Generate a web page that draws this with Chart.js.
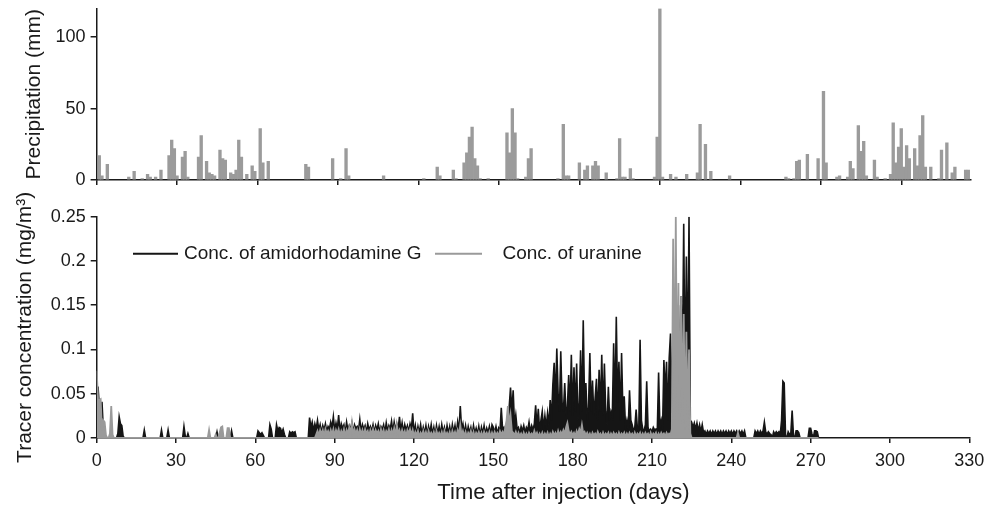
<!DOCTYPE html>
<html>
<head>
<meta charset="utf-8">
<script src="https://cdn.jsdelivr.net/npm/chart.js@4.4.1/dist/chart.umd.min.js"></script>
<style>
  html, body { margin: 0; padding: 0; background: #fff; }
  #wrap { position: relative; width: 1000px; height: 505px; }
  canvas { position: absolute; left: 0; }
  #rain { top: 0; }
  #conc { top: 190px; }
</style>
</head>
<body>
<div id="wrap">
  <canvas id="rain" width="1000" height="190"></canvas>
  <canvas id="conc" width="1000" height="315"></canvas>
</div>
<script>
// daily precipitation (mm), day after injection -> value
const rainDays = [1, 2, 4, 12, 14, 17, 19, 20, 22, 24, 27, 28, 29, 30, 32, 33, 34, 38, 39, 41,
  42, 43, 44, 46, 47, 48, 50, 51, 52, 53, 54, 56, 58, 59, 61, 62, 64, 78, 79, 88,
  91, 93, 94, 107, 122, 127, 128, 133, 134, 137, 138, 139, 140, 141, 142, 143, 146, 153, 154, 155,
  156, 157, 160, 161, 162, 172, 174, 175, 176, 180, 182, 183, 185, 186, 187, 190, 194, 195, 196, 197,
  199, 200, 208, 209, 210, 211, 214, 216, 220, 224, 225, 227, 229, 236, 257, 258, 260, 261, 262, 265,
  269, 271, 272, 276, 277, 280, 281, 282, 284, 285, 286, 287, 290, 291, 294, 296, 297, 298, 299, 300,
  301, 302, 303, 305, 306, 307, 308, 309, 311, 314, 315, 317, 319, 320, 324, 325];
const rainMm = [17, 3, 11, 2, 6, 1, 4, 2, 2, 7, 17, 28, 22, 3, 16, 20, 2, 16, 31, 13,
  5, 4, 3, 21, 15, 14, 5, 4, 7, 28, 16, 4, 10, 6, 36, 12, 13, 11, 9, 15,
  1, 22, 3, 3, 1, 9, 3, 7, 1, 12, 19, 30, 37, 15, 10, 1, 1, 33, 19, 50,
  33, 1, 2, 15, 22, 1, 39, 3, 3, 12, 7, 10, 10, 13, 10, 5, 1, 29, 2, 2,
  8, 1, 2, 30, 120, 2, 4, 2, 4, 5, 39, 25, 6, 3, 2, 1, 1, 13, 14, 18,
  15, 62, 12, 2, 3, 2, 13, 8, 38, 20, 27, 3, 14, 2, 1, 4, 40, 12, 23, 36,
  9, 24, 15, 22, 10, 31, 45, 9, 9, 1, 21, 26, 5, 9, 7, 7];

// tracer concentrations (mg/m3), one value every half day from day 0 to day 273
const concAmido = [
  0, 0.058, 0.035, 0.02, 0.041, 0.01, 0, 0, 0, 0,                                   // 0
  0, 0, 0, 0, 0, 0, 0.005, 0.024, 0.016, 0.014,                                     // 5
  0.002, 0, 0, 0, 0, 0, 0, 0, 0, 0,                                                 // 10
  0, 0, 0, 0, 0, 0, 0.009, 0, 0, 0,                                                 // 15
  0, 0, 0, 0, 0, 0, 0, 0, 0, 0.009,                                                 // 20
  0, 0, 0, 0, 0.009, 0, 0, 0, 0, 0,                                                 // 25
  0, 0, 0, 0, 0, 0, 0.013, 0.002, 0, 0.005,                                         // 30
  0, 0, 0, 0, 0, 0, 0, 0, 0, 0,                                                     // 35
  0, 0, 0, 0, 0, 0, 0, 0, 0, 0,                                                     // 40
  0, 0.007, 0, 0, 0, 0, 0, 0, 0, 0,                                                 // 45
  0, 0, 0.008, 0, 0, 0, 0, 0, 0, 0,                                                 // 50
  0, 0, 0, 0, 0, 0, 0, 0, 0, 0,                                                     // 55
  0, 0, 0.008, 0.006, 0.004, 0.006, 0.003, 0, 0, 0,                                 // 60
  0, 0.015, 0.01, 0, 0, 0, 0.015, 0.008, 0.012, 0.011,                              // 65
  0.006, 0.01, 0.004, 0, 0, 0, 0.007, 0.005, 0.007, 0.006,                          // 70
  0.007, 0, 0, 0, 0, 0, 0, 0, 0, 0,                                                 // 75
  0, 0.023, 0.012, 0.018, 0.008, 0.016, 0.01, 0.02, 0.009, 0.015,                   // 80
  0.006, 0.014, 0.009, 0.016, 0.007, 0.013, 0.01, 0.018, 0.012, 0.024,              // 85
  0.008, 0.017, 0.01, 0.026, 0.007, 0.016, 0.011, 0.015, 0.006, 0.018,              // 90
  0.009, 0.014, 0.01, 0.017, 0.006, 0.015, 0.011, 0.013, 0.008, 0.021,              // 95
  0.007, 0.015, 0.01, 0.014, 0.006, 0.016, 0.009, 0.013, 0.008, 0.015,              // 100
  0.006, 0.014, 0.009, 0.016, 0.007, 0.013, 0.01, 0.015, 0.006, 0.017,              // 105
  0.008, 0.014, 0.01, 0.019, 0.007, 0.018, 0.009, 0.016, 0.01, 0.024,               // 110
  0.008, 0.017, 0.006, 0.015, 0.009, 0.014, 0.007, 0.016, 0.01, 0.028,              // 115
  0.005, 0.014, 0.003, 0.013, 0.006, 0.015, 0.004, 0.012, 0.005, 0.014,             // 120
  0.003, 0.013, 0.006, 0.015, 0.004, 0.012, 0.003, 0.014, 0.005, 0.013,             // 125
  0.004, 0.015, 0.006, 0.012, 0.003, 0.014, 0.005, 0.013, 0.004, 0.015,             // 130
  0.006, 0.014, 0.004, 0.018, 0.008, 0.036, 0.01, 0.016, 0.005, 0.014,              // 135
  0.004, 0.013, 0.006, 0.012, 0.003, 0.014, 0.005, 0.011, 0.004, 0.013,             // 140
  0.003, 0.012, 0.005, 0.014, 0.004, 0.011, 0.006, 0.013, 0.004, 0.015,             // 145
  0.012, 0.006, 0.013, 0.005, 0.011, 0.007, 0.034, 0.01, 0.012, 0.006,              // 150
  0.013, 0.02, 0.035, 0.057, 0.03, 0.054, 0.015, 0.026, 0.01, 0.012,                // 155
  0.005, 0.013, 0.008, 0.014, 0.006, 0.012, 0.009, 0.018, 0.007, 0.014,             // 160
  0.009, 0.016, 0.037, 0.012, 0.033, 0.008, 0.02, 0.03, 0.01, 0.025,                // 165
  0.012, 0.028, 0.015, 0.043, 0.02, 0.06, 0.085, 0.04, 0.101, 0.05,                 // 170
  0.03, 0.098, 0.04, 0.03, 0.062, 0.025, 0.035, 0.071, 0.03, 0.094,                 // 175
  0.025, 0.08, 0.03, 0.084, 0.02, 0.04, 0.099, 0.03, 0.133, 0.04,                   // 180
  0.062, 0.02, 0.035, 0.096, 0.03, 0.065, 0.025, 0.045, 0.067, 0.02,                // 185
  0.077, 0.03, 0.094, 0.025, 0.084, 0.03, 0.015, 0.058, 0.02, 0.03,                 // 190
  0.025, 0.107, 0.03, 0.137, 0.04, 0.086, 0.02, 0.096, 0.03, 0.047,                 // 195
  0.012, 0.02, 0.01, 0.054, 0.02, 0.015, 0.008, 0.012, 0.032, 0.01,                 // 200
  0.008, 0.111, 0.02, 0.01, 0.008, 0.015, 0.064, 0.012, 0.008, 0.01,                // 205
  0.007, 0.012, 0.009, 0.01, 0.008, 0.074, 0.012, 0.02, 0.01, 0.088,                // 210
  0.05, 0.086, 0.02, 0.09, 0.118, 0.03, 0.131, 0.05, 0.12, 0.04,                    // 215
  0.15, 0.05, 0.16, 0.08, 0.242, 0.06, 0.205, 0.07, 0.25, 0.02,                     // 220
  0.018, 0.012, 0.017, 0.01, 0.017, 0.008, 0.015, 0.007, 0.015, 0.006,              // 225
  0.008, 0.004, 0.008, 0.005, 0.008, 0.004, 0.008, 0.005, 0.008, 0.004,             // 230
  0.008, 0.005, 0.008, 0.004, 0.008, 0.005, 0.008, 0.004, 0.008, 0.005,             // 235
  0.008, 0.004, 0.008, 0.005, 0.008, 0.004, 0.008, 0.005, 0.008, 0.004,             // 240
  0.008, 0, 0, 0, 0, 0, 0, 0, 0.008, 0.005,                                         // 245
  0.008, 0.004, 0.008, 0.005, 0.008, 0.018, 0.007, 0.004, 0.007, 0.005,             // 250
  0.004, 0, 0.007, 0.004, 0.007, 0.005, 0.007, 0.004, 0.02, 0.064,                  // 255
  0.062, 0.003, 0, 0.007, 0.004, 0.005, 0.031, 0.003, 0, 0.008,                     // 260
  0.008, 0.006, 0, 0, 0, 0, 0, 0, 0, 0.011,                                         // 265
  0.011, 0.0045, 0, 0.008, 0.008, 0.007, 0                                          // 270
];
const concUranine = [
  0.076, 0.044, 0.043, 0.044, 0.008, 0.02, 0.018, 0.003, 0, 0,                      // 0
  0.005, 0.036, 0.004, 0, 0, 0, 0, 0, 0, 0,                                         // 5
  0, 0, 0, 0, 0, 0, 0, 0, 0, 0,                                                     // 10
  0, 0, 0, 0, 0, 0, 0, 0, 0, 0,                                                     // 15
  0, 0, 0, 0, 0, 0, 0, 0, 0, 0,                                                     // 20
  0, 0, 0, 0, 0, 0, 0, 0, 0, 0,                                                     // 25
  0, 0, 0, 0, 0, 0, 0, 0, 0, 0,                                                     // 30
  0, 0, 0, 0, 0, 0, 0, 0, 0, 0,                                                     // 35
  0, 0, 0, 0, 0, 0.009, 0, 0, 0, 0,                                                 // 40
  0.004, 0, 0, 0.006, 0.012, 0.013, 0, 0, 0, 0.011,                                 // 45
  0.011, 0, 0, 0, 0, 0, 0, 0, 0, 0,                                                 // 50
  0, 0, 0, 0, 0, 0, 0, 0, 0, 0,                                                     // 55
  0, 0, 0, 0, 0, 0, 0, 0, 0, 0,                                                     // 60
  0, 0, 0, 0, 0, 0, 0, 0, 0, 0,                                                     // 65
  0, 0, 0, 0, 0, 0, 0, 0, 0, 0,                                                     // 70
  0, 0, 0, 0, 0, 0, 0, 0, 0, 0,                                                     // 75
  0, 0, 0, 0, 0, 0, 0.004, 0.008, 0.003, 0.009,                                     // 80
  0.004, 0.009, 0.002, 0.01, 0.005, 0.008, 0.003, 0.009, 0.004, 0.01,               // 85
  0.002, 0.009, 0.005, 0.01, 0.003, 0.008, 0.004, 0.01, 0.002, 0.009,               // 90
  0.005, 0.012, 0.004, 0.017, 0.003, 0.01, 0.005, 0.009, 0.002, 0.01,               // 95
  0.004, 0.009, 0.003, 0.01, 0.005, 0.008, 0.002, 0.009, 0.004, 0.01,               // 100
  0.003, 0.009, 0.005, 0.008, 0.002, 0.01, 0.004, 0.009, 0.003, 0.008,              // 105
  0.005, 0.01, 0.003, 0.009, 0.004, 0.011, 0.002, 0.015, 0.005, 0.009,              // 110
  0.003, 0.009, 0.004, 0.008, 0.002, 0.009, 0.005, 0.01, 0.003, 0.009,              // 115
  0.002, 0.007, 0.003, 0.008, 0.001, 0.006, 0.003, 0.008, 0.002, 0.007,             // 120
  0.001, 0.008, 0.003, 0.006, 0.002, 0.007, 0.001, 0.008, 0.003, 0.006,             // 125
  0.002, 0.007, 0.001, 0.008, 0.003, 0.006, 0.002, 0.007, 0.001, 0.008,             // 130
  0.003, 0.007, 0.002, 0.009, 0.004, 0.015, 0.003, 0.008, 0.002, 0.007,             // 135
  0.001, 0.006, 0.003, 0.008, 0.002, 0.007, 0.001, 0.006, 0.003, 0.007,             // 140
  0.002, 0.006, 0.001, 0.007, 0.003, 0.006, 0.002, 0.007, 0.001, 0.006,             // 145
  0.002, 0.007, 0.003, 0.006, 0.002, 0.008, 0.004, 0.007, 0.003, 0.012,             // 150
  0.02, 0.036, 0.015, 0.026, 0.008, 0.006, 0.003, 0.007, 0.002, 0.006,              // 155
  0.002, 0.005, 0.001, 0.006, 0.002, 0.005, 0.001, 0.006, 0.003, 0.005,             // 160
  0.002, 0.008, 0.003, 0.006, 0.001, 0.005, 0.002, 0.006, 0.001, 0.005,             // 165
  0.002, 0.006, 0.001, 0.005, 0.002, 0.007, 0.003, 0.006, 0.002, 0.008,             // 170
  0.003, 0.007, 0.004, 0.009, 0.005, 0.012, 0.017, 0.008, 0.004, 0.007,             // 175
  0.003, 0.006, 0.002, 0.008, 0.004, 0.01, 0.006, 0.015, 0.005, 0.007,              // 180
  0.003, 0.006, 0.002, 0.005, 0.001, 0.006, 0.003, 0.005, 0.002, 0.007,             // 185
  0.003, 0.005, 0.001, 0.006, 0.002, 0.005, 0.003, 0.006, 0.001, 0.005,             // 190
  0.002, 0.006, 0.003, 0.005, 0.001, 0.006, 0.002, 0.005, 0.003, 0.006,             // 195
  0.001, 0.005, 0.002, 0.006, 0.003, 0.005, 0.001, 0.006, 0.002, 0.005,             // 200
  0.003, 0.006, 0.001, 0.005, 0.002, 0.006, 0.003, 0.005, 0.001, 0.006,             // 205
  0.002, 0.005, 0.003, 0.006, 0.001, 0.005, 0.002, 0.006, 0.003, 0.005,             // 210
  0.002, 0.006, 0.003, 0.005, 0.004, 0.01, 0.225, 0.02, 0.25, 0.03,                 // 215
  0.175, 0.02, 0.16, 0.015, 0.14, 0.01, 0.12, 0.01, 0.1, 0.005,                     // 220
  0, 0, 0, 0, 0, 0, 0, 0, 0, 0,                                                     // 225
  0, 0, 0, 0, 0, 0, 0, 0, 0, 0,                                                     // 230
  0, 0, 0, 0, 0, 0, 0, 0, 0, 0,                                                     // 235
  0, 0, 0, 0, 0, 0.006, 0, 0, 0, 0,                                                 // 240
  0, 0, 0, 0, 0, 0, 0, 0, 0, 0,                                                     // 245
  0, 0, 0, 0, 0, 0, 0, 0, 0, 0,                                                     // 250
  0, 0, 0, 0, 0, 0, 0, 0, 0, 0,                                                     // 255
  0, 0, 0, 0, 0, 0, 0, 0, 0, 0,                                                     // 260
  0, 0, 0, 0, 0, 0, 0, 0, 0, 0,                                                     // 265
  0, 0, 0, 0, 0, 0, 0                                                               // 270
];
const concDays = concAmido.map((_, i) => i * 0.5);

const dayTicksStep = 30;
const concTickStep = 0.05;
const rainTickStep = 50;

const seriesLabels = ['Conc. of amidorhodamine G', 'Conc. of uranine'];
const rainTitle = 'Precipitation (mm)';
const concTitle = 'Tracer concentration (mg/m\u00B3)';
const timeTitle = 'Time after injection (days)';

Chart.defaults.font.family = "'Liberation Sans', Arial, sans-serif";
Chart.defaults.color = '#1a1a1a';

const axisLine = { color: '#1a1a1a', width: 1.5 };
const tickMarks = (len) => ({
  offset: false, drawOnChartArea: false, drawTicks: true, tickLength: len,
  color: '#1a1a1a', lineWidth: 1.5
});
// keep the plot areas where the reference has them
const fixWidth = (w) => (s) => { s.width = w; s.paddingTop = 0; s.paddingBottom = 0; };
const fixHeight = (h) => (s) => { s.height = h; s.paddingLeft = 0; s.paddingRight = 0; };

new Chart(document.getElementById('rain'), {
  type: 'bar',
  data: {
    datasets: [{
      data: rainDays.map((d, i) => ({ x: d, y: rainMm[i] })),
      backgroundColor: '#9b9b9b',
      barPercentage: 1,
      categoryPercentage: 1
    }]
  },
  options: {
    responsive: false,
    animation: false,
    layout: { padding: { left: 0, right: 29, top: 8.5, bottom: 0 } },
    plugins: { legend: { display: false }, tooltip: { enabled: false } },
    scales: {
      x: {
        type: 'linear', min: 0, max: 326, offset: false,
        ticks: { display: false, stepSize: dayTicksStep, includeBounds: false },
        grid: tickMarks(5),
        border: axisLine,
        afterFit: fixHeight(10)
      },
      y: {
        min: 0, max: 120,
        ticks: { stepSize: rainTickStep, includeBounds: false, padding: 5, font: { size: 18 } },
        grid: tickMarks(6),
        border: axisLine,
        title: { display: true, text: rainTitle, font: { size: 21 }, padding: { top: 22, bottom: 0 } },
        afterFit: fixWidth(96.6)
      }
    }
  }
});

// legend lines and the x title sit at fixed spots in the reference
const overlay = {
  id: 'overlay',
  afterDraw(chart, args, opts) {
    const ctx = chart.ctx;
    ctx.save();
    ctx.font = '19px "Liberation Sans", Arial, sans-serif';
    ctx.textBaseline = 'middle';
    opts.items.forEach((item, i) => {
      const ds = chart.data.datasets[i];
      ctx.strokeStyle = ds.borderColor;
      ctx.lineWidth = 2;
      ctx.beginPath();
      ctx.moveTo(item.x0, opts.y);
      ctx.lineTo(item.x1, opts.y);
      ctx.stroke();
      ctx.fillStyle = '#1a1a1a';
      ctx.fillText(ds.label, item.tx, opts.y);
    });
    ctx.font = '22px "Liberation Sans", Arial, sans-serif';
    ctx.textAlign = 'center';
    ctx.textBaseline = 'alphabetic';
    ctx.fillText(opts.xTitle, opts.xTitleX, opts.xTitleY);
    ctx.restore();
  }
};

new Chart(document.getElementById('conc'), {
  type: 'line',
  data: {
    datasets: [{
      label: seriesLabels[0],
      data: concDays.map((d, i) => ({ x: d, y: concAmido[i] })),
      borderColor: '#151515',
      backgroundColor: '#151515',
      fill: 'origin',
      borderWidth: 1.6,
      pointRadius: 0,
      order: 1
    }, {
      label: seriesLabels[1],
      data: concDays.map((d, i) => ({ x: d, y: concUranine[i] })),
      borderColor: '#9a9a9a',
      backgroundColor: '#9a9a9a',
      fill: 'origin',
      borderWidth: 1.8,
      pointRadius: 0,
      order: 0
    }]
  },
  plugins: [overlay],
  options: {
    responsive: false,
    animation: false,
    layout: { padding: { left: 0, right: 30.7, top: 26.7, bottom: 0 } },
    plugins: {
      legend: { display: false },
      tooltip: { enabled: false },
      filler: { drawTime: 'beforeDatasetDraw' },
      overlay: {
        y: 63.7,
        items: [{ x0: 133, x1: 178, tx: 184 }, { x0: 435, x1: 482, tx: 502.5 }],
        xTitle: timeTitle, xTitleX: 563.5, xTitleY: 309.3
      }
    },
    scales: {
      x: {
        type: 'linear', min: 0, max: 330,
        ticks: { stepSize: dayTicksStep, padding: 7, font: { size: 18 }, maxRotation: 0 },
        grid: tickMarks(5),
        border: axisLine,
        afterFit: fixHeight(67)
      },
      y: {
        min: 0, max: 0.25,
        ticks: {
          stepSize: concTickStep, padding: 5, font: { size: 18 },
          callback: (v) => String(+v.toFixed(2))
        },
        grid: tickMarks(6),
        border: axisLine,
        title: { display: true, text: concTitle, font: { size: 21 }, padding: { top: 13, bottom: 0 } },
        afterFit: fixWidth(96.7)
      }
    }
  }
});
</script>
</body>
</html>
